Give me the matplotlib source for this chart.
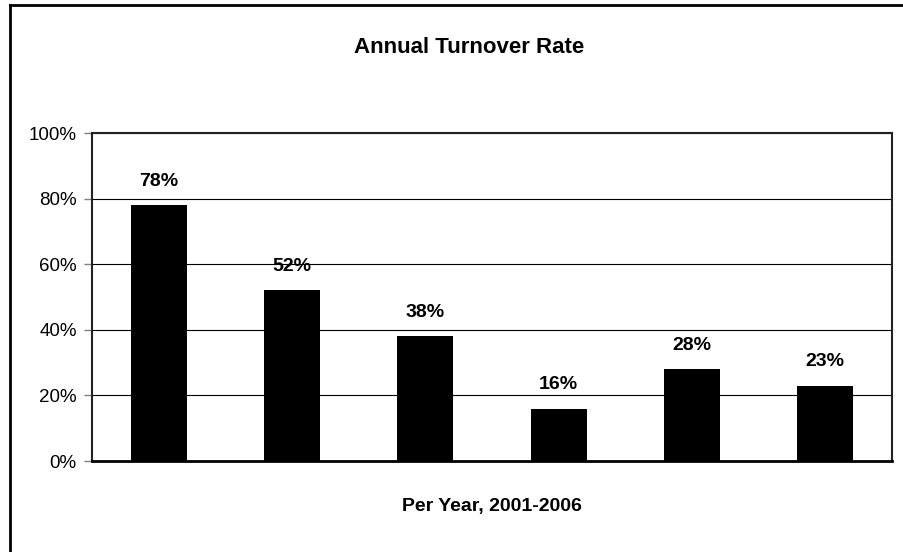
import matplotlib.pyplot as plt
from matplotlib.lines import Line2D

years = ['2001', '2002', '2003', '2004', '2005', '2006']
turnover = [78, 52, 38, 16, 28, 23]
yticks = [0, 20, 40, 60, 80, 100]
ytick_labels = ['0%', '20%', '40%', '60%', '80%', '100%']

plt.rcParams['font.family'] = ['Liberation Sans Narrow', 'Liberation Sans', 'DejaVu Sans']

W, H = 904, 552
fig = plt.figure(figsize=(W / 100, H / 100), dpi=100)
ax = fig.add_axes([92 / W, 1 - 461 / H, 800 / W, 328 / H])

x = range(len(years))
rects = ax.bar(x, turnover, width=0.42, color='black', zorder=3)
ax.bar_label(rects, labels=[f'{v}%' for v in turnover], padding=11,
             fontsize=14, fontweight='bold')

ax.set_xlim(-0.5, len(years) - 0.5)
ax.set_ylim(0, 100)
ax.set_yticks(yticks)
ax.set_yticklabels(ytick_labels, fontsize=13.5)
ax.set_xticks([])
ax.tick_params(axis='y', length=6, width=1, color='#808080', pad=5)
ax.grid(axis='y', color='black', linewidth=0.8, zorder=0)

for s in ax.spines.values():
    s.set_linewidth(1.5)
    s.set_color('#222222')
ax.spines['bottom'].set_linewidth(2)
ax.spines['bottom'].set_color('black')

fig.text(469 / W, 1 - 48 / H, 'Annual Turnover Rate', ha='center', va='center',
         fontsize=16, fontweight='bold')
fig.text(492 / W, 1 - 507 / H, 'Per Year, 2001-2006', ha='center', va='center',
         fontsize=14, fontweight='bold')

# outer chart border (cropped on right and bottom)
fig.add_artist(Line2D([10 / W, 1], [1 - 5 / H, 1 - 5 / H], color='black', linewidth=2))
fig.add_artist(Line2D([10 / W, 10 / W], [0, 1 - 5 / H], color='black', linewidth=2))

fig.savefig('out.png', dpi=100)
